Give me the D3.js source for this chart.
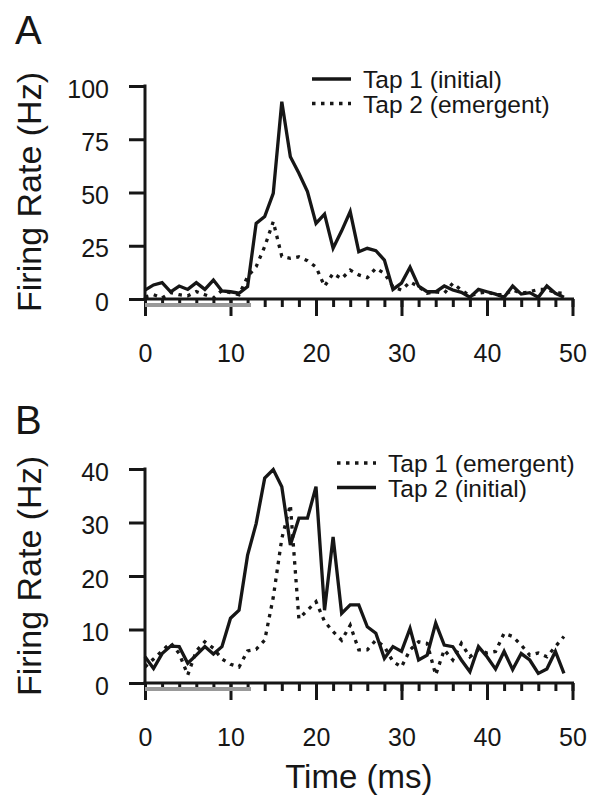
<!DOCTYPE html>
<html>
<head>
<meta charset="utf-8">
<script src="https://cdn.jsdelivr.net/npm/d3@7"></script>
<style>
  html, body { margin: 0; padding: 0; background: #ffffff; }
  svg { display: block; }
  text { font-family: "Liberation Sans", Arial, Helvetica, sans-serif; fill: #161616; }
</style>
</head>
<body>
<svg id="chart" width="602" height="810"></svg>
<script>
// ---- Data ----
const timeBins = [0,1,2,3,4,5,6,7,8,9,10,11,12,13,14,15,16,17,18,19,20,21,22,23,24,25,26,27,28,29,30,31,32,33,34,35,36,37,38,39,40,41,42,43,44,45,46,47,48,49];

// Panel A
const panelA_tap1Initial = [4.2,6.6,7.7,3.4,6.1,4.5,7.7,4.5,8.9,3.8, 3.4,2.7,5.8,35.5,38.7,49.6,92.6,66.8,59,50.4, 35.5,39.9,23.8,32,41,22.2,23.8,22.7,18.3,4.5, 7.5,14.9,6,3.4,3.4,6.1,4.2,3.1,0.8,4.5, 3.4,2.3,0.8,6.1,2.3,3,0.8,6.1,2.7,0.8];
const panelA_tap2Emergent = [1,2,0.5,3,2,1.5,3.5,2,0.5,4, 3,2,10.5,15.2,24.6,36.3,20,19.1,19.8,18, 15,6,12,9.5,13.6,11.3,10,14.4,12,5.8, 4.2,8,5.8,2.7,3.4,2.7,7.4,4.2,1.5,2.7, 3.4,2,2,4.2,2.7,3.4,4.5,4.5,3,2.7];

// Panel B
const panelB_tap1Emergent = [3,4.5,6,7.5,5.5,1.5,6,7.7,6.5,4.5, 3.5,3,6,6.3,8,16,27,33.3,12,13.6, 15.2,11.5,9.6,8,10.8,6.2,6.2,8,6.8,4, 3,6.2,7.7,7.4,1.5,6.2,4.3,7.4,4.9,6.2, 5.6,5.9,9.3,8.7,7.1,5.2,5.6,4.9,6.8,8.7];
const panelB_tap2Initial = [4.9,2.7,5.5,6.9,6.8,3.7,5.2,6.8,5.4,6.8, 12.1,13.6,23.9,29.8,38.3,39.9,36.7,25.8,30.8,30.8, 36.7,13.6,27.3,13,14.6,14.6,10.5,9.3,4.6,6.8, 5.9,10.2,4.3,5.2,11.2,7.1,6.8,4.3,2.1,6.8, 4.9,2.6,5.9,2.5,5.5,4.3,1.8,2.6,5.9,1.8];

// Ticks
const xMajorTicks = [0,10,20,30,40,50];
const xMinorTicks = [0,2,4,6,8,10,12,14,16,18,20,22,24,26,28,30,32,34,36,38,40,42,44,46,48,50];
const yTicksA = [0,25,50,75,100];
const yTicksB = [0,10,20,30,40];
const stimulusWindow = [0, 12.4];

// Labels
const panelLabels = ["A", "B"];
const legendA = ["Tap 1 (initial)", "Tap 2 (emergent)"];
const legendB = ["Tap 1 (emergent)", "Tap 2 (initial)"];
const yTitle = "Firing Rate (Hz)";
const xTitle = "Time (ms)";

// ---- Drawing ----
const svg = d3.select("#chart");
svg.append("rect").attr("width", 602).attr("height", 810).attr("fill", "#ffffff");

const INK = "#161616";
const DASH = "3.5,5.5";

function drawPanel(cfg) {
  const x = d3.scaleLinear().domain([0, 50]).range([145, 572.5]);
  const y = d3.scaleLinear().domain([0, cfg.yMax]).range([cfg.y0, cfg.yTop]);
  const g = svg.append("g");

  // x axis minor
  const xMinor = g.append("g").attr("transform", `translate(0,${cfg.y0})`)
    .call(d3.axisBottom(x).tickValues(xMinorTicks).tickSize(8).tickSizeOuter(0).tickFormat(""));
  xMinor.select(".domain").remove();
  xMinor.selectAll(".tick line").attr("stroke", INK).attr("stroke-width", 3);

  // x axis major
  const xMajor = g.append("g").attr("transform", `translate(0,${cfg.y0})`)
    .call(d3.axisBottom(x).tickValues(xMajorTicks).tickSize(17).tickSizeOuter(0).tickFormat(d3.format("d")));
  xMajor.select(".domain").attr("stroke", INK).attr("stroke-width", 3)
    .attr("d", `M${x(0) - 1.5},0H${x(50) + 1.5}`);
  xMajor.selectAll(".tick line").attr("stroke", INK).attr("stroke-width", 3);
  xMajor.selectAll(".tick text").attr("y", 63).attr("dy", 0)
    .style("font-size", "25px").attr("fill", INK);

  // y axis
  const yAx = g.append("g").attr("transform", `translate(${x(0)},0)`)
    .call(d3.axisLeft(y).tickValues(cfg.yTicks).tickSize(16).tickSizeOuter(0).tickFormat(d3.format("d")));
  yAx.select(".domain").attr("stroke", INK).attr("stroke-width", 3)
    .attr("d", `M0,${cfg.yTop - 1.5}V${cfg.y0}`);
  yAx.selectAll(".tick line").attr("stroke", INK).attr("stroke-width", 3);
  yAx.selectAll(".tick text").attr("x", -36).attr("dy", 0).attr("y", 11)
    .style("font-size", "25px").attr("fill", INK);

  // stimulus bar (drawn over the ticks)
  g.append("line")
    .attr("x1", x(stimulusWindow[0])).attr("x2", x(stimulusWindow[1]))
    .attr("y1", cfg.y0 + 6).attr("y2", cfg.y0 + 6)
    .attr("stroke", "#999999").attr("stroke-width", 4);

  // series
  const line = d3.line().x((d, i) => x(timeBins[i])).y(d => y(d));
  cfg.series.forEach(s => {
    g.append("path").datum(s.values)
      .attr("d", line)
      .attr("fill", "none")
      .attr("stroke", INK)
      .attr("stroke-width", 3.3)
      .attr("stroke-linejoin", "miter")
      .attr("stroke-miterlimit", 4)
      .attr("stroke-dasharray", s.dashed ? DASH : null);
  });

  // legend
  cfg.legend.forEach((item, i) => {
    const ly = cfg.legendY + i * 24.5;
    g.append("line")
      .attr("x1", cfg.legendX).attr("x2", cfg.legendX + 39)
      .attr("y1", ly).attr("y2", ly)
      .attr("stroke", INK).attr("stroke-width", 3.3)
      .attr("stroke-dasharray", item.dashed ? DASH : null);
    g.append("text")
      .attr("x", cfg.legendTextX).attr("y", ly + 9)
      .style("font-size", "24.5px")
      .text(item.label);
  });

  // panel label
  g.append("text").attr("x", 15).attr("y", cfg.labelY)
    .style("font-size", "40px").text(cfg.label);

  // y title
  g.append("text")
    .attr("transform", `translate(41,${cfg.titleCY}) rotate(-90)`)
    .attr("text-anchor", "middle")
    .style("font-size", "34px")
    .text(yTitle);

  return x;
}

drawPanel({
  yMax: 100, yTicks: yTicksA, y0: 299, yTop: 86,
  series: [
    { values: panelA_tap1Initial, dashed: false },
    { values: panelA_tap2Emergent, dashed: true }
  ],
  legend: [
    { label: legendA[0], dashed: false },
    { label: legendA[1], dashed: true }
  ],
  legendX: 312, legendTextX: 363, legendY: 79,
  label: panelLabels[0], labelY: 44, titleCY: 192
});

const xB = drawPanel({
  yMax: 40, yTicks: yTicksB, y0: 683, yTop: 469,
  series: [
    { values: panelB_tap2Initial, dashed: false },
    { values: panelB_tap1Emergent, dashed: true }
  ],
  legend: [
    { label: legendB[0], dashed: true },
    { label: legendB[1], dashed: false }
  ],
  legendX: 337, legendTextX: 388, legendY: 463,
  label: panelLabels[1], labelY: 434, titleCY: 576
});

svg.append("text")
  .attr("x", xB(25)).attr("y", 788)
  .attr("text-anchor", "middle")
  .style("font-size", "33px")
  .text(xTitle);
</script>
</body>
</html>
